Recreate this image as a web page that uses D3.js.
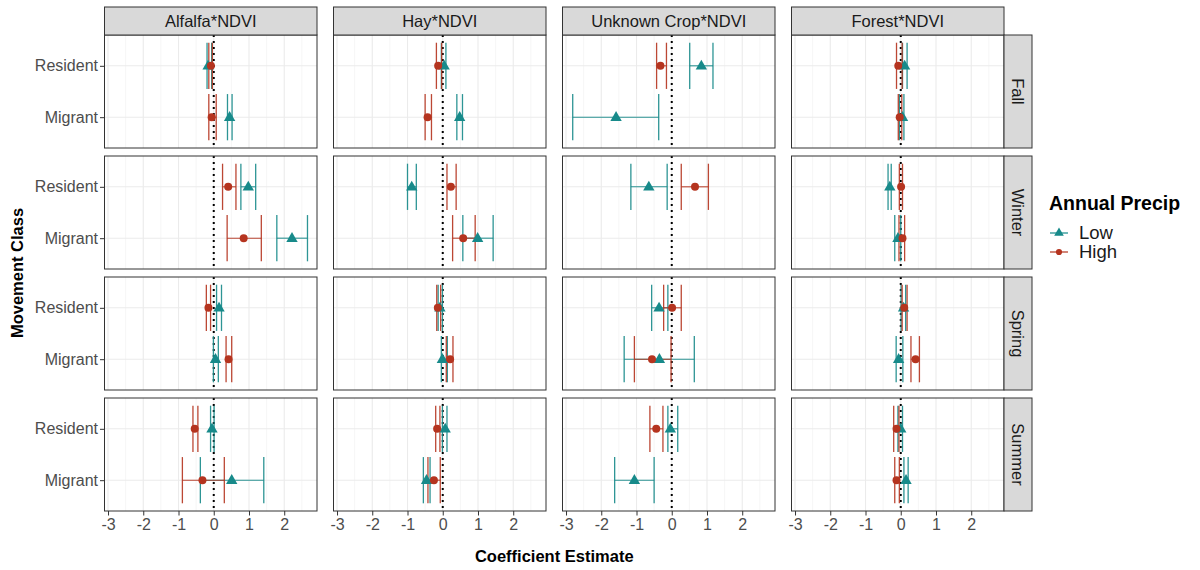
<!DOCTYPE html>
<html>
<head>
<meta charset="utf-8">
<script src="https://cdn.jsdelivr.net/npm/d3@7"></script>
<style>
  body { margin: 0; background: #fff; }
  svg { font-family: "Liberation Sans", Arial, sans-serif; }
</style>
</head>
<body>
<div id="chart"></div>
<script>
// facets, categories, ticks
const crops = ["Alfalfa*NDVI", "Hay*NDVI", "Unknown Crop*NDVI", "Forest*NDVI"]
const seasons = ["Fall", "Winter", "Spring", "Summer"]
const classes = ["Resident", "Migrant"]
const precipLevels = ["Low", "High"]
const xTicks = [-3, -2, -1, 0, 1, 2]
const xMinor = [-2.5, -1.5, -0.5, 0.5, 1.5, 2.5]

// estimates: crop, season, class, estimate, lower, upper
const lowPrecip = [
  ["Alfalfa*NDVI", "Fall", "Resident", -0.16, -0.19, -0.06],
  ["Alfalfa*NDVI", "Fall", "Migrant", 0.45, 0.39, 0.52],
  ["Alfalfa*NDVI", "Winter", "Resident", 0.98, 0.77, 1.19],
  ["Alfalfa*NDVI", "Winter", "Migrant", 2.22, 1.79, 2.66],
  ["Alfalfa*NDVI", "Spring", "Resident", 0.15, 0.08, 0.22],
  ["Alfalfa*NDVI", "Spring", "Migrant", 0.05, -0.01, 0.13],
  ["Alfalfa*NDVI", "Summer", "Resident", -0.05, -0.09, 0.01],
  ["Alfalfa*NDVI", "Summer", "Migrant", 0.51, -0.38, 1.42],
  ["Hay*NDVI", "Fall", "Resident", 0.04, -0.04, 0.09],
  ["Hay*NDVI", "Fall", "Migrant", 0.48, 0.40, 0.56],
  ["Hay*NDVI", "Winter", "Resident", -0.88, -1.00, -0.75],
  ["Hay*NDVI", "Winter", "Migrant", 0.99, 0.57, 1.43],
  ["Hay*NDVI", "Spring", "Resident", -0.08, -0.13, -0.01],
  ["Hay*NDVI", "Spring", "Migrant", -0.01, -0.04, 0.13],
  ["Hay*NDVI", "Summer", "Resident", 0.07, -0.01, 0.12],
  ["Hay*NDVI", "Summer", "Migrant", -0.46, -0.55, -0.36],
  ["Unknown Crop*NDVI", "Fall", "Resident", 0.84, 0.51, 1.17],
  ["Unknown Crop*NDVI", "Fall", "Migrant", -1.58, -2.81, -0.37],
  ["Unknown Crop*NDVI", "Winter", "Resident", -0.65, -1.16, -0.13],
  ["Unknown Crop*NDVI", "Spring", "Resident", -0.36, -0.57, -0.11],
  ["Unknown Crop*NDVI", "Spring", "Migrant", -0.35, -1.35, 0.64],
  ["Unknown Crop*NDVI", "Summer", "Resident", -0.04, -0.11, 0.17],
  ["Unknown Crop*NDVI", "Summer", "Migrant", -1.06, -1.62, -0.50],
  ["Forest*NDVI", "Fall", "Resident", 0.11, 0.05, 0.18],
  ["Forest*NDVI", "Fall", "Migrant", 0.05, -0.04, 0.09],
  ["Forest*NDVI", "Winter", "Resident", -0.31, -0.36, -0.27],
  ["Forest*NDVI", "Winter", "Migrant", -0.08, -0.17, 0.00],
  ["Forest*NDVI", "Spring", "Resident", 0.08, 0.01, 0.14],
  ["Forest*NDVI", "Spring", "Migrant", -0.06, -0.13, 0.06],
  ["Forest*NDVI", "Summer", "Resident", 0.00, -0.08, 0.05],
  ["Forest*NDVI", "Summer", "Migrant", 0.15, 0.09, 0.21]
]

const highPrecip = [
  ["Alfalfa*NDVI", "Fall", "Resident", -0.08, -0.14, -0.04],
  ["Alfalfa*NDVI", "Fall", "Migrant", -0.06, -0.14, 0.07],
  ["Alfalfa*NDVI", "Winter", "Resident", 0.41, 0.25, 0.63],
  ["Alfalfa*NDVI", "Winter", "Migrant", 0.85, 0.38, 1.35],
  ["Alfalfa*NDVI", "Spring", "Resident", -0.15, -0.21, -0.09],
  ["Alfalfa*NDVI", "Spring", "Migrant", 0.42, 0.35, 0.51],
  ["Alfalfa*NDVI", "Summer", "Resident", -0.54, -0.59, -0.45],
  ["Alfalfa*NDVI", "Summer", "Migrant", -0.32, -0.89, 0.30],
  ["Hay*NDVI", "Fall", "Resident", -0.13, -0.18, -0.03],
  ["Hay*NDVI", "Fall", "Migrant", -0.43, -0.50, -0.32],
  ["Hay*NDVI", "Winter", "Resident", 0.23, 0.12, 0.38],
  ["Hay*NDVI", "Winter", "Migrant", 0.58, 0.28, 0.92],
  ["Hay*NDVI", "Spring", "Resident", -0.14, -0.17, -0.06],
  ["Hay*NDVI", "Spring", "Migrant", 0.21, 0.10, 0.29],
  ["Hay*NDVI", "Summer", "Resident", -0.16, -0.20, -0.08],
  ["Hay*NDVI", "Summer", "Migrant", -0.25, -0.42, -0.07],
  ["Unknown Crop*NDVI", "Fall", "Resident", -0.32, -0.43, -0.15],
  ["Unknown Crop*NDVI", "Winter", "Resident", 0.66, 0.27, 1.04],
  ["Unknown Crop*NDVI", "Spring", "Resident", 0.01, -0.23, 0.27],
  ["Unknown Crop*NDVI", "Spring", "Migrant", -0.56, -1.06, -0.02],
  ["Unknown Crop*NDVI", "Summer", "Resident", -0.44, -0.62, -0.25],
  ["Forest*NDVI", "Fall", "Resident", -0.07, -0.12, 0.04],
  ["Forest*NDVI", "Fall", "Migrant", -0.03, -0.07, 0.03],
  ["Forest*NDVI", "Winter", "Resident", 0.01, -0.04, 0.05],
  ["Forest*NDVI", "Winter", "Migrant", 0.05, -0.05, 0.11],
  ["Forest*NDVI", "Spring", "Resident", 0.10, 0.04, 0.18],
  ["Forest*NDVI", "Spring", "Migrant", 0.42, 0.29, 0.53],
  ["Forest*NDVI", "Summer", "Resident", -0.12, -0.20, -0.05],
  ["Forest*NDVI", "Summer", "Migrant", -0.12, -0.17, -0.04]
]

const colors = { Low: "#178a8a", High: "#b5341f" }

// layout
const W = 1200, H = 570
const marginLeft = 104.5, marginTop = 35
const panelW = 212.5, panelH = 113
const stepX = 229, stepY = 121
const stripH = 28

const x = d3.scaleLinear().domain([-3.1, 2.93]).range([0, panelW])
const y = d3.scalePoint().domain(classes).range([0, panelH]).padding(0.6)
const capH = y.step() * 0.45

const svg = d3.select("#chart").append("svg")
  .attr("width", W).attr("height", H)

const series = [
  { name: "Low", rows: lowPrecip },
  { name: "High", rows: highPrecip }
]

seasons.forEach((season, r) => {
  crops.forEach((crop, c) => {
    const g = svg.append("g")
      .attr("transform", `translate(${marginLeft + c * stepX},${marginTop + r * stepY})`)

    // grid
    g.selectAll(".minor").data(xMinor).join("line")
      .attr("x1", d => x(d)).attr("x2", d => x(d))
      .attr("y1", 0).attr("y2", panelH)
      .attr("stroke", "#f0f0f0").attr("stroke-width", 0.6)
    g.selectAll(".major").data(xTicks).join("line")
      .attr("x1", d => x(d)).attr("x2", d => x(d))
      .attr("y1", 0).attr("y2", panelH)
      .attr("stroke", "#ebebeb").attr("stroke-width", 1.1)
    g.selectAll(".hmajor").data(classes).join("line")
      .attr("x1", 0).attr("x2", panelW)
      .attr("y1", d => y(d)).attr("y2", d => y(d))
      .attr("stroke", "#ebebeb").attr("stroke-width", 1.1)

    // zero reference
    g.append("line")
      .attr("x1", x(0)).attr("x2", x(0))
      .attr("y1", 0).attr("y2", panelH)
      .attr("stroke", "#000").attr("stroke-width", 2)
      .attr("stroke-dasharray", "2,4")

    series.forEach(s => {
      const rows = s.rows.filter(d => d[0] === crop && d[1] === season)
      const col = colors[s.name]
      const eb = g.append("g")
      eb.selectAll(".h").data(rows).join("line")
        .attr("x1", d => x(d[4])).attr("x2", d => x(d[5]))
        .attr("y1", d => y(d[2])).attr("y2", d => y(d[2]))
        .attr("stroke", col).attr("stroke-width", 1.1).attr("opacity", 0.9)
      eb.selectAll(".lo").data(rows).join("line")
        .attr("x1", d => x(d[4])).attr("x2", d => x(d[4]))
        .attr("y1", d => y(d[2]) - capH).attr("y2", d => y(d[2]) + capH)
        .attr("stroke", col).attr("stroke-width", 1.3).attr("opacity", 0.9)
      eb.selectAll(".hi").data(rows).join("line")
        .attr("x1", d => x(d[5])).attr("x2", d => x(d[5]))
        .attr("y1", d => y(d[2]) - capH).attr("y2", d => y(d[2]) + capH)
        .attr("stroke", col).attr("stroke-width", 1.3).attr("opacity", 0.9)
    })
    series.forEach(s => {
      const rows = s.rows.filter(d => d[0] === crop && d[1] === season)
      const sym = s.name === "Low" ? d3.symbolTriangle : d3.symbolCircle
      const size = s.name === "Low" ? 56 : 50
      g.selectAll(".pt" + s.name).data(rows).join("path")
        .attr("transform", d => `translate(${x(d[3])},${y(d[2]) + (s.name === "Low" ? 0.5 : 0)})`)
        .attr("d", d3.symbol(sym, size))
        .attr("fill", colors[s.name])
    })

    // border
    g.append("rect")
      .attr("width", panelW).attr("height", panelH)
      .attr("fill", "none").attr("stroke", "#333").attr("stroke-width", 1)

    // top strips
    if (r === 0) {
      g.append("rect")
        .attr("y", -stripH).attr("width", panelW).attr("height", stripH)
        .attr("fill", "#d9d9d9").attr("stroke", "#333").attr("stroke-width", 1)
      g.append("text")
        .attr("x", panelW / 2).attr("y", -stripH / 2)
        .attr("dy", "0.36em").attr("text-anchor", "middle")
        .attr("font-size", 16.5).attr("fill", "#1a1a1a")
        .text(crop)
    }
    // right strips
    if (c === crops.length - 1) {
      g.append("rect")
        .attr("x", panelW).attr("width", stripH).attr("height", panelH)
        .attr("fill", "#d9d9d9").attr("stroke", "#333").attr("stroke-width", 1)
      g.append("text")
        .attr("transform", `translate(${panelW + stripH / 2},${panelH / 2}) rotate(90)`)
        .attr("dy", "0.36em").attr("text-anchor", "middle")
        .attr("font-size", 16.5).attr("fill", "#1a1a1a")
        .text(season)
    }
    // y axis
    if (c === 0) {
      const ya = g.append("g").call(d3.axisLeft(y).tickSize(4.5).tickPadding(2))
      ya.select(".domain").remove()
      ya.selectAll(".tick line").attr("stroke", "#333")
      ya.selectAll("text").attr("font-size", 16).attr("fill", "#4d4d4d")
        .attr("font-family", "Liberation Sans, Arial, sans-serif")
    }
    // x axis
    if (r === seasons.length - 1) {
      const xa = g.append("g").attr("transform", `translate(0,${panelH})`)
        .call(d3.axisBottom(x).tickValues(xTicks).tickFormat(d => String(d))
          .tickSize(4.5).tickPadding(3))
      xa.select(".domain").remove()
      xa.selectAll(".tick line").attr("stroke", "#333")
      xa.selectAll("text").attr("font-size", 16).attr("fill", "#4d4d4d")
        .attr("font-family", "Liberation Sans, Arial, sans-serif")
    }
  })
})

// axis titles
svg.append("text")
  .attr("x", marginLeft + (stepX * 3 + panelW) / 2).attr("y", 562)
  .attr("text-anchor", "middle").attr("font-size", 16.5).attr("font-weight", "bold")
  .text("Coefficient Estimate")
svg.append("text")
  .attr("transform", `translate(23,${marginTop + (stepY * 3 + panelH) / 2}) rotate(-90)`)
  .attr("text-anchor", "middle").attr("font-size", 16.5).attr("font-weight", "bold")
  .text("Movement Class")

// legend
const legend = svg.append("g").attr("transform", "translate(1049,0)")
legend.append("text")
  .attr("x", 0).attr("y", 210)
  .attr("font-size", 19.5).attr("font-weight", "bold")
  .text("Annual Precip")
precipLevels.forEach((p, i) => {
  const ky = 233 + i * 19
  legend.append("line")
    .attr("x1", 1).attr("x2", 19).attr("y1", ky).attr("y2", ky)
    .attr("stroke", colors[p]).attr("stroke-width", 1.2)
  legend.append("path")
    .attr("transform", `translate(10,${ky})`)
    .attr("d", d3.symbol(p === "Low" ? d3.symbolTriangle : d3.symbolCircle, p === "Low" ? 40 : 30))
    .attr("fill", colors[p])
  legend.append("text")
    .attr("x", 30).attr("y", ky).attr("dy", "0.35em")
    .attr("font-size", 18.5).attr("fill", "#1a1a1a")
    .text(p)
})
</script>
</body>
</html>
